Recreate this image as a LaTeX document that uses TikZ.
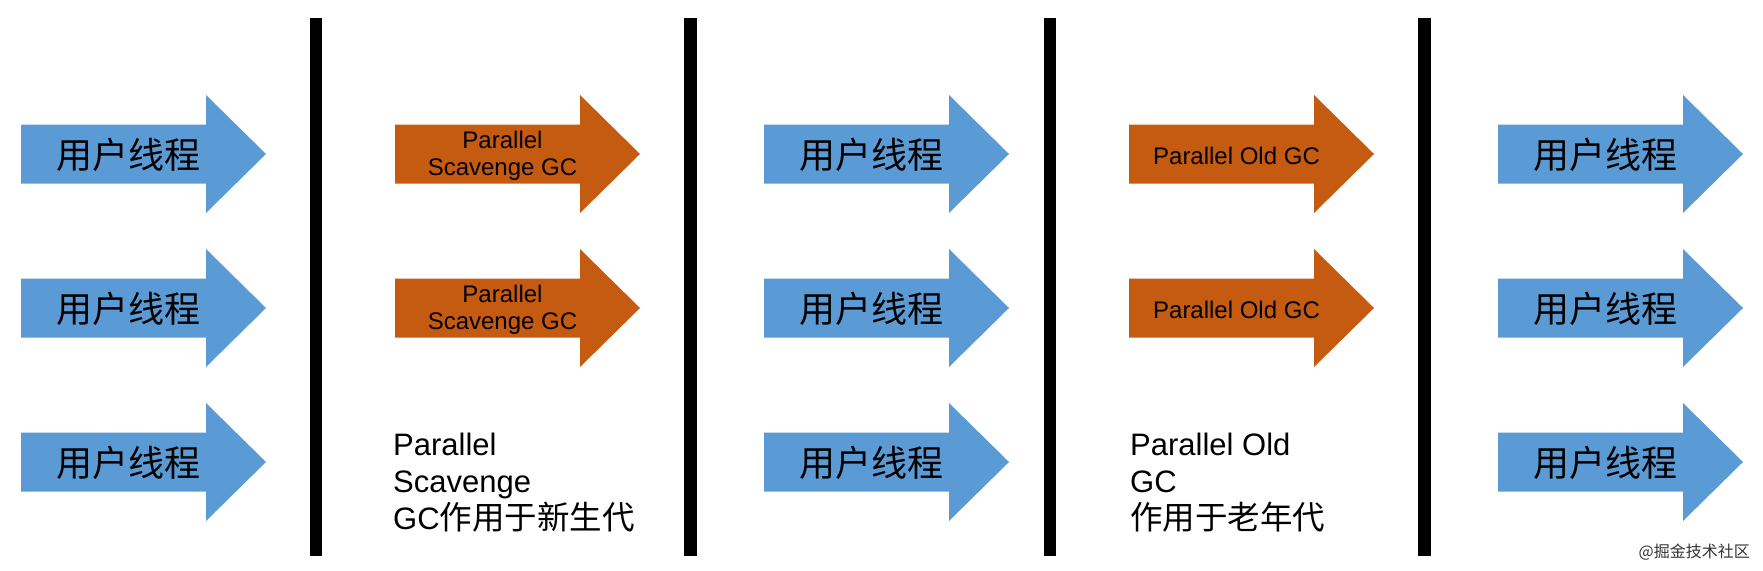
\documentclass[tikz,border=0pt]{standalone}
\usepackage{fontspec}
\setmainfont{Liberation Sans}
\newfontfamily\cjk{Noto Sans CJK SC}
\definecolor{ublue}{HTML}{5B9BD5}
\definecolor{gcorange}{HTML}{C55A11}
\newcommand\notecjk{\cjk\fontsize{32.5}{37}\selectfont}
\begin{document}
\begin{tikzpicture}[x=1pt,y=-1pt,
  pics/rarrow/.style={code={\fill[#1] (0,-29.5) -- (185,-29.5) -- (185,-59) -- (245,0) -- (185,59) -- (185,29.5) -- (0,29.5) -- cycle;}},
  ulabel/.style={font=\cjk\fontsize{36}{40}\selectfont, inner sep=0pt},
  glabel/.style={font=\fontsize{24}{27}\selectfont, align=center, inner sep=0pt},
  note/.style={font=\fontsize{31}{37}\selectfont, align=left, inner sep=0pt, anchor=north west},
  sepbar/.style={fill=black, inner sep=0pt, minimum width=12.5pt, minimum height=538pt},
  wmark/.style={font=\cjk\fontsize{16}{16}\selectfont, text=black!80, inner sep=0pt, anchor=base east}]
\useasboundingbox (0,0) rectangle (1763,570);
% separator bars
\node[sepbar] (bar1) at (316.2,287) {};
\node[sepbar] (bar2) at (690.5,287) {};
\node[sepbar] (bar3) at (1050.2,287) {};
\node[sepbar] (bar4) at (1424.5,287) {};
% blue user-thread arrows
\foreach \c/\x in {a/21,c/764,e/1498}{
  \foreach \r/\y in {1/154,2/308,3/462}{
    \pic at (\x,\y) {rarrow=ublue};
    \node[ulabel] (u\c\r) at (\x+107,\y+1) {用户线程};
  }
}
% orange GC arrows
\foreach \r/\y in {1/154,2/308}{
  \pic at (395,\y) {rarrow=gcorange};
  \node[glabel] (ps\r) at (395+107.5,\y+1.5) {Parallel\\Scavenge GC};
  \pic at (1129,\y) {rarrow=gcorange};
  \node[glabel] (po\r) at (1129+107.5,\y+1.5) {Parallel Old GC};
}
% notes
\node[note] (noteps) at (393,433) {Parallel\\Scavenge\\GC{\notecjk 作用于新生代}};
\node[note] (notepo) at (1130,433) {Parallel Old\\GC\\{\notecjk 作用于老年代}};
% watermark
\node[wmark] (wm) at (1750,557) {@掘金技术社区};
\end{tikzpicture}
\end{document}
